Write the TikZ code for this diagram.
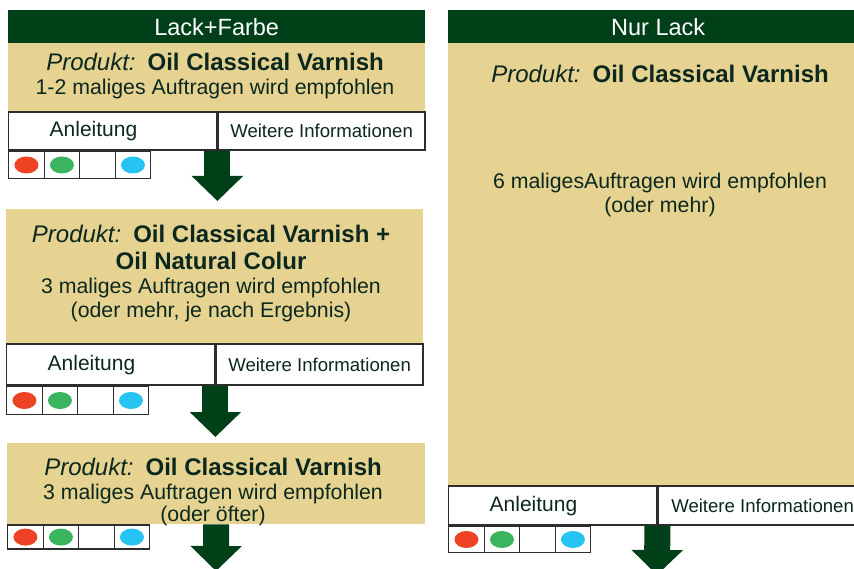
\documentclass[tikz,border=0pt]{standalone}
\usepackage{fontspec}
\setmainfont{Liberation Sans}
\usetikzlibrary{arrows.meta,shapes.geometric}
\definecolor{forest}{RGB}{0,64,25}
\definecolor{sand}{RGB}{230,211,145}
\definecolor{ink}{RGB}{12,40,30}
\definecolor{frame}{RGB}{45,45,45}
\definecolor{dotred}{RGB}{238,66,36}
\definecolor{dotgreen}{RGB}{58,180,95}
\definecolor{dotblue}{RGB}{38,196,242}
\tikzset{%
  >={Triangle[width=50pt,length=25pt]},
  % Specifications for style of nodes:
        header/.style = {rectangle, fill=forest, text=white, anchor=north west,
                         minimum height=33pt, inner sep=0pt,
                         font=\fontsize{23.5}{27}\selectfont},
         panel/.style = {rectangle, fill=sand, anchor=north west, inner sep=0pt},
           btn/.style = {rectangle, draw=frame, line width=1.4pt, fill=white,
                         anchor=north west, inner sep=0pt, text=ink},
         guide/.style = {btn, align=left, inner xsep=41pt, text width=126pt,
                         font=\fontsize{21}{24}\selectfont},
          info/.style = {btn, font=\fontsize{18.6}{22}\selectfont},
          cell/.style = {btn, minimum width=35.5pt},
        colour/.style = {ellipse, minimum width=24pt, minimum height=17pt, inner sep=0pt},
          prod/.style = {anchor=base, inner sep=0pt, text=ink,
                         font=\fontsize{24}{28}\selectfont},
          body/.style = {prod, font=\fontsize{21.3}{24}\selectfont},
          flow/.style = {->, draw=forest, line width=26pt}
}

\begin{document}
\begin{tikzpicture}[x=1pt, y=-1pt]
  \path[fill=white, use as bounding box] (0,0) rectangle (854,569);

  % Left column: Lack+Farbe
  \node (headL)  [header, minimum width=417pt] at (8,10) {Lack+Farbe};
  \node (box1)   [panel, minimum width=417pt, minimum height=68pt] at (8,43) {};
  \node (anl1)   [guide, minimum height=38pt] at (box1.south west) {Anleitung};
  \node (info1)  [info, minimum width=207pt, minimum height=38pt] at (anl1.north east) {Weitere Informationen};

  \node (box2)   [panel, minimum width=417pt, minimum height=134pt] at (6,209) {};
  \node (anl2)   [guide, minimum height=41pt] at (box2.south west) {Anleitung};
  \node (info2)  [info, minimum width=207pt, minimum height=41pt] at (anl2.north east) {Weitere Informationen};

  \node (box3)   [panel, minimum width=418pt, minimum height=81pt] at (7,443) {};

  % Right column: Nur Lack
  \node (headR)  [header, minimum width=420pt] at (448,10) {Nur Lack};
  \node (boxR)   [panel, minimum width=420pt, minimum height=442pt] at (448,43) {};
  \node (anlR)   [guide, minimum height=39pt] at (boxR.south west) {Anleitung};
  \node (infoR)  [info, minimum width=209pt, minimum height=39pt] at (anlR.north east) {Weitere Informationen};

  % colour rows under each step
  \foreach \n/\h in {anl1/27pt, anl2/28pt, box3/24pt, anlR/26pt}{
    \foreach \c [count=\i from 0] in {dotred,dotgreen,white,dotblue}{
      \node (cell-\n-\i) [cell, minimum height=\h] at ([xshift=35.5*\i]\n.south west) {};
      \node (dot-\n-\i)  [colour, fill=\c] at (cell-\n-\i.center) {};
    }
  }

  % arrows between the steps
  \coordinate (end3) at (216,571);
  \coordinate (endR) at (657,575);
  \draw[flow, shorten >=8pt] (anl1.south east) -- (anl1.south east |- box2.north);
  \draw[flow, shorten >=6pt] (anl2.south east) -- (anl2.south east |- box3.north);
  \draw[flow] (box3.south) -- (end3);
  \draw[flow] (anlR.south east) -- (endR);

  % texts of the panels
  \node (p1)  [prod] at (215,71) {\textit{Produkt:}\hspace{0.5em}\textbf{Oil Classical Varnish}};
  \node (n1)  [body] at (215,95) {1-2 maliges Auftragen wird empfohlen};
  \node (p2)  [prod] at (211,243) {\textit{Produkt:}\hspace{0.5em}\textbf{Oil Classical Varnish +}};
  \node (p2b) [prod] at (211,270) {\textbf{Oil Natural Colur}};
  \node (n2)  [body] at (211,294) {3 maliges Auftragen wird empfohlen};
  \node (n2b) [body] at (211,318) {(oder mehr, je nach Ergebnis)};
  \node (p3)  [prod] at (213,475) {\textit{Produkt:}\hspace{0.5em}\textbf{Oil Classical Varnish}};
  \node (n3)  [body] at (213,499) {3 maliges Auftragen wird empfohlen};
  \node (n3b) [body] at (213,521) {(oder öfter)};
  \node (pR)  [prod] at (660,83) {\textit{Produkt:}\hspace{0.5em}\textbf{Oil Classical Varnish}};
  \node (nR)  [body] at (660,189) {6 maligesAuftragen wird empfohlen};
  \node (nRb) [body] at (660,213) {(oder mehr)};
\end{tikzpicture}
\end{document}
